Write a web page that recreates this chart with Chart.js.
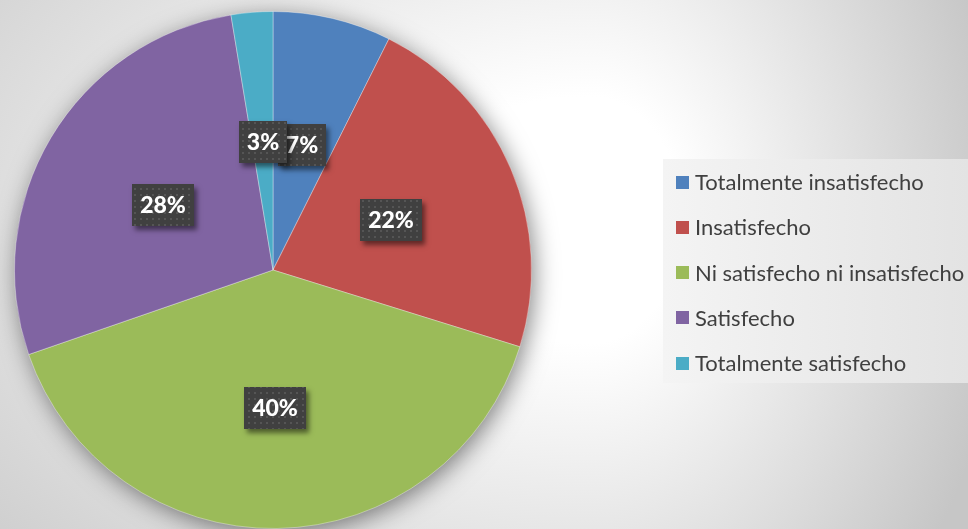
<!DOCTYPE html>
<html>
<head>
<meta charset="utf-8">
<script src="https://cdn.jsdelivr.net/npm/chart.js@4"></script>
<style>
html,body{margin:0;padding:0;overflow:hidden;background:#fff;}
canvas{display:block;}
</style>
</head>
<body>
<canvas id="c" width="968" height="529"></canvas>
<script>
const categories = ["Totalmente insatisfecho","Insatisfecho","Ni satisfecho ni insatisfecho","Satisfecho","Totalmente satisfecho"];
const values = [7.4, 22.4, 39.9, 27.7, 2.6];
const colors = ["#4f81bd","#c0504d","#9bbb59","#8064a2","#4bacc6"];

function makePattern(){
  const p = document.createElement('canvas');
  p.width = 6; p.height = 6;
  const g = p.getContext('2d');
  g.fillStyle = '#404040'; g.fillRect(0,0,6,6);
  g.fillStyle = '#555555'; g.fillRect(2,2,2,2);
  return p;
}
const patternCanvas = makePattern();

const bgPlugin = {
  id:'bg',
  beforeDraw(chart){
    const ctx = chart.ctx, W = chart.width, H = chart.height;
    const cx = 590, cy = 220;
    const parts = [[cx, W - cx, 420],[0, cx, 880]];
    for (const [x0, w, rx] of parts){
      ctx.save();
      ctx.beginPath(); ctx.rect(x0, 0, w, H); ctx.clip();
      ctx.translate(cx, cy); ctx.scale(rx, 560);
      const g = ctx.createRadialGradient(0,0,0,0,0,1);
      g.addColorStop(0,'#ffffff');
      g.addColorStop(0.22,'#ffffff');
      g.addColorStop(1,'#c6c6c6');
      ctx.fillStyle = g;
      ctx.fillRect(-5,-5,10,10);
      ctx.restore();
    }
  },
  beforeDatasetsDraw(chart){
    const arc = chart.getDatasetMeta(0).data[0];
    if(!arc) return;
    const ctx = chart.ctx;
    ctx.save();
    ctx.shadowColor = 'rgba(0,0,0,0.5)';
    ctx.shadowBlur = 24;
    ctx.shadowOffsetX = 3;
    ctx.shadowOffsetY = 5;
    ctx.fillStyle = '#9a9a9a';
    ctx.beginPath();
    ctx.arc(arc.x, arc.y, arc.outerRadius - 1, 0, Math.PI*2);
    ctx.fill();
    ctx.restore();
  }
};

const labelPlugin = {
  id:'boxLabels',
  afterDatasetsDraw(chart, args, opts){
    const ctx = chart.ctx;
    const meta = chart.getDatasetMeta(0);
    const data = chart.data.datasets[0].data;
    const total = data.reduce((a,b)=>a+b,0);
    const pattern = ctx.createPattern(patternCanvas,'repeat');
    meta.data.forEach((arc, i) => {
      const mid = (arc.startAngle + arc.endAngle)/2;
      const r = arc.outerRadius * opts.factors[i];
      const x = arc.x + Math.cos(mid)*r;
      const y = arc.y + Math.sin(mid)*r;
      const txt = Math.round(data[i]/total*100) + '%';
      ctx.save();
      ctx.font = '900 23px Lato';
      const tw = ctx.measureText(txt).width;
      const bw = Math.round(tw + 16), bh = 42;
      const bx = Math.round(x - bw/2), by = Math.round(y - bh/2);
      ctx.shadowColor = 'rgba(0,0,0,0.5)';
      ctx.shadowBlur = 5;
      ctx.shadowOffsetX = 3;
      ctx.shadowOffsetY = 4;
      ctx.fillStyle = '#404040';
      ctx.fillRect(bx, by, bw, bh);
      ctx.shadowColor = 'transparent';
      ctx.fillStyle = pattern;
      ctx.fillRect(bx, by, bw, bh);
      ctx.fillStyle = '#ffffff';
      ctx.textAlign = 'center';
      ctx.textBaseline = 'middle';
      ctx.fillText(txt, bx + bw/2, by + bh/2 + 1);
      ctx.restore();
    });
  }
};

const legendPlugin = {
  id:'sideLegend',
  afterDraw(chart){
    const ctx = chart.ctx;
    const ds = chart.data.datasets[0];
    ctx.save();
    const g = ctx.createLinearGradient(663,0,968,0);
    g.addColorStop(0,'#f4f4f4');
    g.addColorStop(1,'#e3e3e3');
    ctx.fillStyle = g;
    ctx.fillRect(663,159,310,224);
    ctx.font = '22px Lato';
    ctx.textBaseline = 'middle';
    ctx.textAlign = 'left';
    chart.data.labels.forEach((lab, i) => {
      const y = 182 + i*45.3;
      ctx.fillStyle = ds.backgroundColor[i];
      ctx.fillRect(676, Math.round(y - 6.5), 13, 13);
      ctx.fillStyle = '#404040';
      ctx.fillText(lab, 695, y + 1);
    });
    ctx.restore();
  }
};

new Chart(document.getElementById('c'), {
  type:'pie',
  data:{
    labels: categories,
    datasets:[{
      data: values,
      backgroundColor: colors,
      borderColor: 'rgba(255,255,255,0.35)',
      borderWidth: 1
    }]
  },
  options:{
    responsive:false,
    animation:false,
    devicePixelRatio:1,
    layout:{padding:{left:12, top:11, right:434, bottom:0}},
    plugins:{
      legend:{display:false},
      tooltip:{enabled:false},
      boxLabels:{factors:[0.495,0.495,0.535,0.495,0.495]}
    }
  },
  plugins:[bgPlugin, labelPlugin, legendPlugin]
});
</script>
</body>
</html>
